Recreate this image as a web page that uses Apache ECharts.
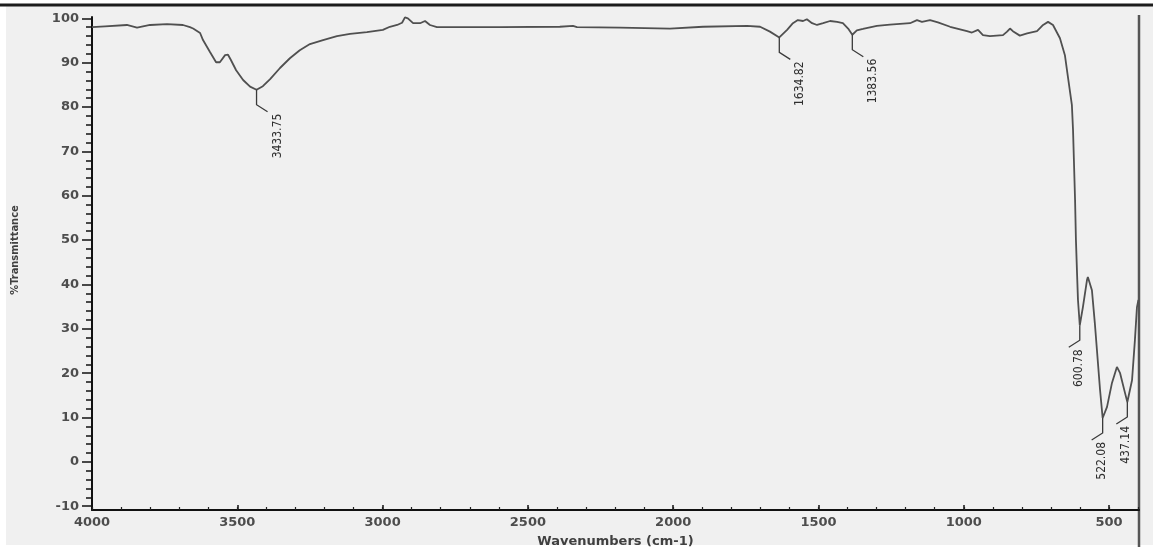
<!DOCTYPE html>
<html>
  <head>
    <meta charset="utf-8" />
    <title>FTIR spectrum</title>
    <style>
      body {
        margin: 0;
        padding: 0;
        background: #fff;
      }
      #chart {
        width: 1153px;
        height: 547px;
      }
    </style>
    <script src="https://cdn.jsdelivr.net/npm/echarts@6.0.0/dist/echarts.min.js"></script>
  </head>

  <body>
    <div id="chart"></div>
  </body>
  <script>
    // trace, high to low wavenumber (cm-1)
    const wavenumbers = [
      4000, 3955, 3880, 3845, 3800, 3742, 3687, 3663, 3652, 3628,
      3618, 3594, 3573, 3560, 3542, 3532, 3522, 3504, 3480, 3456,
      3433.75, 3412, 3387, 3353, 3319, 3285, 3250, 3205, 3157, 3112,
      3054, 2999, 2975, 2950, 2933, 2923, 2913, 2895, 2871, 2854,
      2837, 2813, 2768, 2596, 2390, 2345, 2331, 2183, 2011, 1897,
      1746, 1701, 1667, 1634.82, 1608, 1588, 1571, 1553, 1540, 1522,
      1505, 1484, 1460, 1436, 1416, 1398, 1383.56, 1368, 1347, 1299,
      1254, 1185, 1161, 1144, 1116, 1089, 1047, 1023, 989, 972,
      951, 934, 910, 865, 851, 841, 831, 807, 782, 748,
      727, 710, 693, 669, 652, 641, 628, 624, 621, 617,
      614, 610, 607, 600.78, 590, 576, 573, 559, 549, 531,
      522.08, 507, 490, 473, 462, 445, 437.14, 421, 411, 404,
      399,
    ];
    // %T at each wavenumber above
    const transmittance = [
      98.0, 98.2, 98.5, 97.9, 98.5, 98.7, 98.5, 98.0, 97.7, 96.7,
      95.1, 92.4, 90.1, 90.1, 91.7, 91.8, 90.6, 88.3, 86.1, 84.6,
      83.9, 84.7, 86.3, 88.8, 91.0, 92.8, 94.2, 95.1, 96.0, 96.5,
      96.9, 97.4, 98.1, 98.5, 99.0, 100.2, 100.0, 98.9, 98.9, 99.4,
      98.5, 98.0, 98.0, 98.0, 98.1, 98.3, 98.0, 97.9, 97.7, 98.1,
      98.3, 98.1, 97.0, 95.7, 97.4, 98.9, 99.6, 99.4, 99.8, 98.9,
      98.5, 98.9, 99.4, 99.2, 98.9, 97.7, 96.3, 97.3, 97.6, 98.3,
      98.6, 98.9, 99.6, 99.2, 99.6, 99.1, 98.1, 97.7, 97.1, 96.8,
      97.4, 96.2, 96.0, 96.2, 97.0, 97.7, 97.1, 96.1, 96.6, 97.1,
      98.5, 99.2, 98.5, 95.5, 91.7, 86.5, 80.5, 74.8, 68.0, 59.0,
      50.0, 42.1, 36.5, 30.8, 34.9, 41.0, 41.7, 38.7, 31.3, 16.2,
      9.9, 12.4, 17.8, 21.4, 20.0, 15.5, 13.5, 18.4, 27.5, 34.9,
      36.5,
    ];
    // labelled peaks
    const peakLabels = [3433.75, 1634.82, 1383.56, 600.78, 522.08, 437.14];
    // axis tick labels
    const xTicks = [4000, 3500, 3000, 2500, 2000, 1500, 1000, 500];
    const yTicks = [-10, 0, 10, 20, 30, 40, 50, 60, 70, 80, 90, 100];

    const X_MIN = 397, X_MAX = 4000, Y_MIN = -10.85, Y_MAX = 100.3;

    let xMinor = [];
    for (let v = 400; v <= 4000; v += 100) xMinor.push(v);
    let yMinor = [];
    for (let v = -10; v <= 100; v += 2) yMinor.push(v);

    const trace = wavenumbers.map((w, i) => [w, transmittance[i]]);
    const peaks = peakLabels.map((w) => [w, transmittance[wavenumbers.indexOf(w)]]);

    const tickFont = {
      fontFamily: "DejaVu Sans",
      fontWeight: "bold",
      fontSize: 13,
      color: "#4d4d4d",
    };
    const narrow = "Liberation Sans Narrow, DejaVu Sans Condensed, sans-serif";
    const plain = (v) => String(v);

    function peakMark(params, api) {
      const wn = api.value(0);
      const p = api.coord([wn, api.value(1)]);
      const dir = wn < 700 ? -1 : 1;
      const drop = 15;
      const ex = p[0] + dir * 11;
      const ey = p[1] + drop + 7;
      return {
        type: "group",
        children: [
          {
            type: "polyline",
            shape: { points: [p, [p[0], p[1] + drop], [ex, ey]] },
            style: { stroke: "#3a3a3a", lineWidth: 1.3, fill: null },
          },
          {
            type: "text",
            x: ex + 10,
            y: ey + 2,
            rotation: Math.PI / 2,
            style: {
              text: wn.toFixed(2),
              fill: "#2e2e2e",
              fontFamily: narrow,
              fontSize: 12,
              align: "right",
              verticalAlign: "middle",
            },
          },
        ],
      };
    }

    const chart = echarts.init(document.getElementById("chart"));
    chart.setOption({
      animation: false,
      backgroundColor: "#f0f0f0",
      grid: {
        left: 92,
        right: 14,
        top: 17,
        bottom: 37,
        containLabel: false,
        outerBoundsMode: "none",
      },
      xAxis: [
        {
          type: "value",
          inverse: true,
          min: X_MIN,
          max: X_MAX,
          name: "Wavenumbers (cm-1)",
          nameLocation: "middle",
          nameGap: 25,
          nameTextStyle: Object.assign({}, tickFont, { fontSize: 13, color: "#404040" }),
          axisLine: { onZero: false, lineStyle: { color: "#111", width: 2 } },
          axisTick: { customValues: xTicks, inside: true, length: 5, lineStyle: { color: "#111", width: 1.5 } },
          axisLabel: Object.assign({ customValues: xTicks, margin: 6, formatter: plain }, tickFont),
          splitLine: { show: false },
        },
        {
          type: "value",
          inverse: true,
          min: X_MIN,
          max: X_MAX,
          position: "bottom",
          axisLine: { show: false, onZero: false },
          axisTick: { customValues: xMinor, inside: true, length: 3, lineStyle: { color: "#222", width: 1.2 } },
          axisLabel: { show: false },
          splitLine: { show: false },
        },
      ],
      yAxis: [
        {
          type: "value",
          min: Y_MIN,
          max: Y_MAX,
          axisLine: { show: true, onZero: false, lineStyle: { color: "#111", width: 2 } },
          axisTick: { show: true, customValues: yTicks, length: 10, lineStyle: { color: "#111", width: 1.5 } },
          axisLabel: Object.assign({ customValues: yTicks, margin: 13, formatter: plain }, tickFont),
          splitLine: { show: false },
        },
        {
          type: "value",
          min: Y_MIN,
          max: Y_MAX,
          position: "left",
          axisLine: { show: false, onZero: false },
          axisTick: { show: true, customValues: yMinor, length: 6, lineStyle: { color: "#111", width: 1.5 } },
          axisLabel: { show: false },
          splitLine: { show: false },
        },
      ],
      graphic: [
        { type: "rect", shape: { x: 0, y: 0, width: 6, height: 547 }, style: { fill: "#fff" }, silent: true },
        { type: "rect", shape: { x: 0, y: 0, width: 1153, height: 4 }, style: { fill: "#fff" }, silent: true },
        { type: "rect", shape: { x: 0, y: 545, width: 1153, height: 2 }, style: { fill: "#fff" }, silent: true },
        { type: "line", shape: { x1: 0, y1: 5, x2: 1153, y2: 5 }, style: { stroke: "#1c1c1c", lineWidth: 3 }, silent: true },
        { type: "line", shape: { x1: 1139, y1: 15, x2: 1139, y2: 547 }, style: { stroke: "#555", lineWidth: 2.5 }, silent: true },
        {
          type: "text",
          x: 15,
          y: 250,
          rotation: Math.PI / 2,
          silent: true,
          style: {
            text: "%Transmittance",
            fill: "#404040",
            fontFamily: narrow,
            fontWeight: "bold",
            fontSize: 11,
            align: "center",
            verticalAlign: "middle",
          },
        },
      ],
      series: [
        {
          type: "line",
          data: trace,
          showSymbol: false,
          smooth: false,
          lineStyle: { color: "#505050", width: 1.8 },
          z: 3,
        },
        {
          type: "custom",
          data: peaks,
          renderItem: peakMark,
          silent: true,
          clip: false,
          z: 4,
        },
      ],
    });
  </script>
</html>
